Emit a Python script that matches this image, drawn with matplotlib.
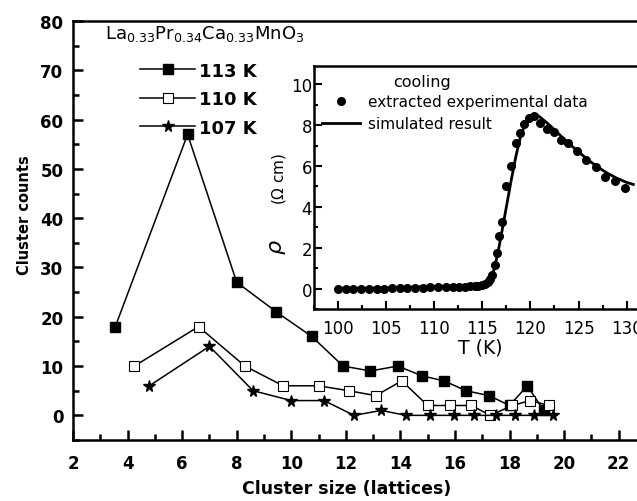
import numpy as np
import matplotlib
matplotlib.use("Agg")
from matplotlib import pyplot as plt
from matplotlib.ticker import MultipleLocator

# the scanned figure is a bit wider than tall, DejaVu Sans fits its text widths best
plt.rcParams['font.family'] = ['DejaVu Sans']
plt.rcParams['mathtext.fontset'] = 'dejavusans'

# Main panel: cluster size distributions
x_113 = [3.55, 6.2, 8.0, 9.45, 10.75, 11.9, 12.9, 13.9, 14.8, 15.6, 16.4, 17.25, 18.0, 18.65, 19.25]
y_113 = [18, 57, 27, 21, 16, 10, 9, 10, 8, 7, 5, 4, 2, 6, 1]
x_110 = [4.25, 6.6, 8.3, 9.7, 11.0, 12.1, 13.1, 14.05, 15.0, 15.8, 16.6, 17.3, 18.1, 18.75, 19.45]
y_110 = [10, 18, 10, 6, 6, 5, 4, 7, 2, 2, 2, 0, 2, 3, 2]
x_107 = [4.8, 7.0, 8.6, 10.0, 11.2, 12.3, 13.3, 14.2, 15.1, 15.95, 16.7, 17.5, 18.2, 18.9, 19.6]
y_107 = [6, 14, 5, 3, 3, 0, 1, 0, 0, 0, 0, 0, 0, 0, 0]

# Inset: resistivity on cooling
T_exp = [100.0, 100.8, 101.6, 102.4, 103.2, 104.0, 104.8, 105.6, 106.4, 107.2,
         108.0, 108.8, 109.6, 110.4, 111.2, 112.0, 112.6, 113.2, 113.7, 114.2,
         114.6, 115.0, 115.3, 115.6, 115.8, 115.96, 116.3, 116.55, 116.75, 117.0,
         117.5, 117.93, 118.45, 118.9, 119.35, 119.87, 120.35, 120.98, 121.7, 122.4,
         123.2, 123.9, 124.85, 125.8, 126.8, 127.8, 128.8, 129.8]
rho_exp = [0.0, 0.0, 0.0, 0.0, 0.0, 0.0, 0.0, 0.01, 0.02, 0.03,
           0.04, 0.05, 0.06, 0.07, 0.08, 0.09, 0.1, 0.1, 0.12, 0.13,
           0.15, 0.18, 0.22, 0.3, 0.45, 0.65, 1.14, 1.76, 2.57, 3.28,
           5.01, 6.02, 7.15, 7.64, 8.05, 8.37, 8.46, 8.13, 7.8, 7.69,
           7.28, 7.15, 6.75, 6.29, 5.93, 5.48, 5.28, 4.91]
T_sim = [100, 105, 110, 113, 114.5, 115.3, 115.8, 116.2, 116.6, 117.0, 117.5, 118.0, 118.5,
         119.0, 119.5, 120.0, 120.5, 121.0, 122.0, 123.0, 124.0, 125.0, 126.0, 127.0,
         128.0, 129.0, 130.0, 130.7]
rho_sim = [0.0, 0.03, 0.1, 0.15, 0.2, 0.3, 0.5, 0.9, 1.7, 2.7, 4.0, 5.3, 6.5,
           7.5, 8.1, 8.45, 8.55, 8.4, 8.0, 7.55, 7.1, 6.7, 6.3, 5.95,
           5.65, 5.4, 5.2, 5.1]

fig = plt.figure(figsize=(6.37, 5.02), dpi=100)
ax = fig.add_axes([0.1146, 0.1215, 0.8995, 0.8347])

ax.plot(x_113, y_113, '-', color='black', lw=1.1, marker='s', ms=6.5,
        mfc='black', mec='black', label='113 K')
ax.plot(x_110, y_110, '-', color='black', lw=1.1, marker='s', ms=6.5,
        mfc='white', mec='black', mew=0.8, label='110 K')
ax.plot(x_107, y_107, '-', color='black', lw=1.1, marker='*', ms=8.5,
        mfc='black', mec='black', label='107 K')

ax.set_xlim(2, 23)
ax.set_ylim(-5, 80)
ax.xaxis.set_major_locator(MultipleLocator(2))
ax.xaxis.set_minor_locator(MultipleLocator(1))
ax.yaxis.set_major_locator(MultipleLocator(10))
ax.yaxis.set_minor_locator(MultipleLocator(5))
ax.tick_params(which='both', direction='in', width=1.8, top=False, right=False)
ax.tick_params(which='major', length=7, labelsize=12)
ax.tick_params(which='minor', length=4)
ax.tick_params(axis='x', pad=10)
ax.tick_params(axis='y', pad=7)
for lab in ax.get_xticklabels() + ax.get_yticklabels():
    lab.set_fontweight('bold')
for s in ax.spines.values():
    s.set_linewidth(1.8)

ax.set_xlabel('Cluster size (lattices)', fontsize=12.5, fontweight='bold')
ax.xaxis.set_label_coords(0.478, -0.093)
ax.set_ylabel('Cluster counts', fontsize=10.5, fontweight='bold')
ax.yaxis.set_label_coords(-0.0716, 0.539)

ax.legend(loc='upper left', bbox_to_anchor=(0.117, 0.903), frameon=False,
          borderpad=0, borderaxespad=0,
          handlelength=3.05, handletextpad=0.22, labelspacing=0.58,
          prop={'size': 13, 'weight': 'bold'})
ax.text(0.056, 0.959, r'La$_{0.33}$Pr$_{0.34}$Ca$_{0.33}$MnO$_3$',
        transform=ax.transAxes, fontsize=13, va='baseline', ha='left')

# Inset
ins = fig.add_axes([0.4929, 0.3825, 0.521, 0.484])
ins.set_facecolor('white')
ins.plot(T_exp, rho_exp, 'o', color='black', ms=5.5, label='extracted experimental data')
ins.plot(T_sim, rho_sim, '-', color='black', lw=2.0, label='simulated result')
ins.set_xlim(97.5, 132)
ins.set_ylim(-1, 10.9)
ins.xaxis.set_major_locator(MultipleLocator(5))
ins.xaxis.set_minor_locator(MultipleLocator(2.5))
ins.yaxis.set_major_locator(MultipleLocator(2))
ins.yaxis.set_minor_locator(MultipleLocator(1))
ins.tick_params(which='both', direction='in', width=1.5, top=False, right=False)
ins.tick_params(which='major', length=6, labelsize=12)
ins.tick_params(which='minor', length=3)
ins.tick_params(axis='x', pad=7)
ins.tick_params(axis='y', pad=1.5)
for s in ins.spines.values():
    s.set_linewidth(1.8)
ins.set_xlabel('T (K)', fontsize=13.5, labelpad=0.5)
ins.text(-0.108, 0.259, r'$\rho$', transform=ins.transAxes, fontsize=16,
         rotation=90, ha='center', va='center')
ins.text(-0.105, 0.539, r'($\Omega$ cm)', transform=ins.transAxes, fontsize=11,
         rotation=90, ha='center', va='center')
ins.legend(loc='upper left', bbox_to_anchor=(0.024, 0.884), frameon=False,
           borderpad=0, borderaxespad=0,
           handlelength=2.5, handletextpad=0.5, labelspacing=0.45, fontsize=11)
ins.text(0.238, 0.938, 'cooling', transform=ins.transAxes, fontsize=11.5, va='center')

fig.savefig('out.png', dpi=100)
